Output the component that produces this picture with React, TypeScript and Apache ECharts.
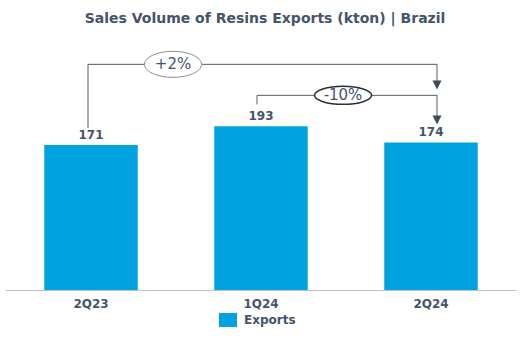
import React, { useEffect, useRef } from "react";
import * as echarts from "echarts";

const categories = ["2Q23", "1Q24", "2Q24"];
const exportsValues = [171, 193, 174];
const seriesName = "Exports";
const comparisonFrom = [0, 1];
const comparisonTo = [2, 2];
const comparisonLabels = ["+2%", "-10%"];

const TEXT = "#44546a";
const LINE = "#525c6b";
const BAR = "#00a3e0";
const FONT = "DejaVu Sans, Verdana, sans-serif";

export default function App() {
  const ref = useRef<HTMLDivElement>(null);
  useEffect(() => {
    if (!ref.current) return;
    const chart = echarts.init(ref.current, undefined, { renderer: "svg" });
    chart.setOption({
      animation: false,
      title: {
        text: "Sales Volume of Resins Exports (kton) | Brazil",
        left: "center",
        top: 6,
        textStyle: { fontFamily: FONT, fontSize: 14, fontWeight: "bold", color: TEXT },
      },
      legend: {
        data: [seriesName],
        bottom: 7,
        left: 214,
        itemWidth: 18,
        itemHeight: 14,
        icon: "rect",
        textStyle: { fontFamily: FONT, fontSize: 12, fontWeight: "bold", color: TEXT, padding: [0, 0, 0, 2] },
      },
      grid: { left: 6, right: 14, top: 78, bottom: 49, containLabel: false },
      xAxis: {
        type: "category",
        data: categories,
        axisLine: { lineStyle: { color: "#bfbfbf", width: 1 } },
        axisTick: { show: false },
        axisLabel: { fontFamily: FONT, fontSize: 12, fontWeight: "bold", color: TEXT, margin: 8 },
      },
      yAxis: {
        type: "value",
        min: 0,
        max: 250,
        show: false,
        splitLine: { show: false },
      },
      series: [
        {
          name: seriesName,
          type: "bar",
          data: exportsValues,
          barWidth: "55%",
          itemStyle: { color: BAR },
          label: {
            show: true,
            position: "top",
            distance: 4,
            fontFamily: FONT,
            fontSize: 12,
            fontWeight: "bold",
            color: TEXT,
          },
        },
      ],
    });

    const px = (i: number) => chart.convertToPixel({ seriesIndex: 0 }, [i, exportsValues[i]]) as number[];
    const maxIdx = exportsValues.indexOf(Math.max(...exportsValues));
    const topY = px(maxIdx)[1];
    const elements: any[] = [];
    comparisonFrom.forEach((f, k) => {
      const t = comparisonTo[k];
      const a = px(f);
      const b = px(t);
      const level = k === 0 ? topY - 62 : topY - 31;
      const startY = a[1] - (k === 0 ? 17 : 22);
      const tipY = b[1] - (k === 0 ? 53 : 18);
      const ax = a[0] - (k === 0 ? 3 : 4);
      const bx = b[0] + 6;
      elements.push({
        type: "polyline",
        shape: { points: [[ax, startY], [ax, level], [bx, level], [bx, tipY - 8]] },
        style: { stroke: LINE, lineWidth: 1, fill: null },
        z: 10,
      });
      elements.push({
        type: "polygon",
        shape: { points: [[bx - 4.5, tipY - 9], [bx + 4.5, tipY - 9], [bx, tipY]] },
        style: { fill: "#404a5a", stroke: null },
        z: 10,
      });
      const cx = k === 0 ? ax + 85 : ax + 86;
      const rx = 28.5;
      const ry = k === 0 ? 13 : 9;
      elements.push({
        type: "ellipse",
        shape: { cx, cy: level, rx, ry },
        style: { fill: "#ffffff", stroke: k === 0 ? "#8c8c8c" : "#2f2f2f", lineWidth: k === 0 ? 1 : 1.5 },
        z: 11,
      });
      elements.push({
        type: "text",
        x: cx,
        y: level,
        style: {
          text: comparisonLabels[k],
          fill: TEXT,
          font: `normal 15px ${FONT}`,
          textAlign: "center",
          textVerticalAlign: "middle",
          align: "center",
          verticalAlign: "middle",
        },
        z: 12,
      });
    });
    chart.setOption({ graphic: { elements } });
    return () => chart.dispose();
  }, []);
  return <div ref={ref} style={{ width: 530, height: 339, position: "absolute", left: 0, top: 0 }} />;
}
